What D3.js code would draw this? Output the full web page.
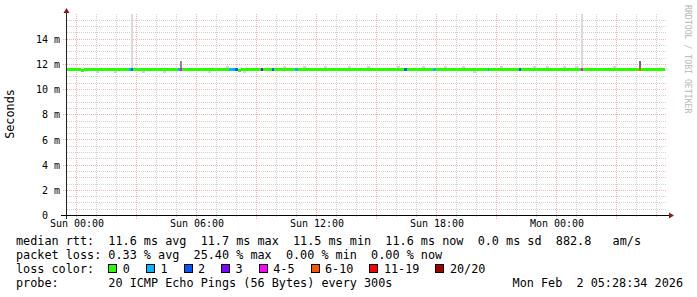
<!DOCTYPE html>
<html>
<head>
<meta charset="utf-8">
<title>smokeping</title>
<style>
  body { margin:0; background:#fff; }
  svg { display:block; }
  text { font-family:"DejaVu Sans Mono", monospace; fill:#000; white-space:pre; }
  .minor { stroke:#d2d2d2; stroke-dasharray:1,1; shape-rendering:crispEdges; }
  .major { stroke:#f0b2b2; stroke-dasharray:1,1; shape-rendering:crispEdges; }
  .axis path, .axis line { display:none; }
</style>
</head>
<body>
<svg id="chart" width="697" height="297"></svg>
<script src="https://d3js.org/d3.v7.min.js"></script>
<script>
// time window of the graph (last 30 hours)
var tStart = new Date(2026, 0, 31, 23, 28, 34);
var tEnd   = new Date(2026, 1, 2, 5, 28, 34);
var parse = d3.timeParse("%Y-%m-%d %H:%M");

// y axis ticks (ms)
var yTicks = [0, 2, 4, 6, 8, 10, 12, 14];
var yMax = 16;

// median rtt runs: run start, value in ms
var medianTimes  = ["2026-01-31 23:28", "2026-02-01 00:14", "2026-02-01 00:24", "2026-02-01 08:05", "2026-02-01 08:15", "2026-02-02 05:25"];
var medianValues = [11.6, 11.53, 11.6, 11.53, 11.6];

// packet loss: start, end, level (index into lossColors)
var lossStart = ["2026-02-01 02:38", "2026-02-01 02:44", "2026-02-01 05:06", "2026-02-01 05:12", "2026-02-01 07:37",
                 "2026-02-01 07:55", "2026-02-01 09:13", "2026-02-01 09:47", "2026-02-01 10:56", "2026-02-01 16:23",
                 "2026-02-01 17:50", "2026-02-01 20:35", "2026-02-01 22:08", "2026-02-02 01:14", "2026-02-02 04:08"];
var lossEnd   = ["2026-02-01 02:44", "2026-02-01 02:50", "2026-02-01 05:12", "2026-02-01 05:18", "2026-02-01 07:55",
                 "2026-02-01 08:05", "2026-02-01 09:19", "2026-02-01 09:53", "2026-02-01 11:05", "2026-02-01 16:31",
                 "2026-02-01 17:59", "2026-02-01 20:38", "2026-02-01 22:14", "2026-02-02 01:20", "2026-02-02 04:14"];
var lossLevel = [1, 2, 1, 4, 1, 2, 3, 2, 1, 2, 1, 1, 2, 4, 5];

// smoke spikes: start, top value (ms), shade
var spikeTimes = ["2026-02-01 02:44", "2026-02-01 05:12", "2026-02-02 01:14", "2026-02-02 04:08"];
var spikeTop   = [16, 12.25, 16, 12.3];
var spikeShade = ["#dadada", "#8c8c8c", "#dadada", "#6e6e6e"];

// light smoke around the median
var smokeTimes = ["2026-02-01 00:59", "2026-02-01 01:52", "2026-02-01 03:16", "2026-02-01 04:19", "2026-02-01 06:34",
                  "2026-02-01 07:29", "2026-02-01 08:20", "2026-02-01 10:20", "2026-02-01 11:20", "2026-02-01 12:23",
                  "2026-02-01 13:35", "2026-02-01 14:32", "2026-02-01 16:02", "2026-02-01 17:17", "2026-02-01 18:23",
                  "2026-02-01 19:17", "2026-02-01 19:50", "2026-02-01 21:11", "2026-02-01 22:50", "2026-02-01 23:29",
                  "2026-02-02 00:20", "2026-02-02 00:56", "2026-02-02 02:50"];
var smokeLow   = [11.42, 11.42, 11.42, 11.42, 11.42, 11.6, 11.42, 11.6, 11.6, 11.6, 11.6, 11.6, 11.6, 11.6, 11.6,
                  11.6, 11.42, 11.6, 11.6, 11.6, 11.6, 11.6, 11.6];
var smokeHigh  = [11.6, 11.6, 11.6, 11.6, 11.6, 11.78, 11.6, 11.78, 11.78, 11.78, 11.78, 11.78, 11.78, 11.78, 11.78,
                  11.78, 11.6, 11.78, 11.78, 11.78, 11.78, 11.78, 11.78];

var lossColors = ["#26ff00", "#00b8ff", "#0059ff", "#7e00ff", "#ff00ff", "#ff5500", "#ff0000", "#a10000"];
var lossLabels = ["0", "1", "2", "3", "4-5", "6-10", "11-19", "20/20"];

var statLines = [
  "median rtt:  11.6 ms avg  11.7 ms max  11.5 ms min  11.6 ms now  0.0 ms sd  882.8   am/s",
  "packet loss: 0.33 % avg  25.40 % max  0.00 % min  0.00 % now"
];
var probeText = "probe:       20 ICMP Echo Pings (56 Bytes) every 300s";
var stampText = "Mon Feb  2 05:28:34 2026";

var svg = d3.select("#chart");
var x = d3.scaleTime().domain([tStart, tEnd]).range([66, 666]);
var y = d3.scaleLinear().domain([0, yMax]).range([215.5, 14]);
var px = v => Math.floor(v) + 0.5;

// grid
var g = svg.append("g");
var minorY = d3.range(0.5, yMax, 0.5).filter(v => v % 2 != 0);
g.selectAll(".my").data(minorY).enter().append("line").attr("class", "minor")
  .attr("x1", 67).attr("x2", 666).attr("y1", d => px(y(d))).attr("y2", d => px(y(d)));
var hours = d3.timeHour.range(tStart, tEnd);
g.selectAll(".mx").data(hours.filter(d => d.getHours() % 3 != 0)).enter().append("line").attr("class", "minor")
  .attr("x1", d => px(x(d))).attr("x2", d => px(x(d))).attr("y1", 14).attr("y2", 218);
g.selectAll(".Mx").data(hours.filter(d => d.getHours() % 3 == 0)).enter().append("line").attr("class", "major")
  .attr("x1", d => px(x(d))).attr("x2", d => px(x(d))).attr("y1", 14).attr("y2", 219);
g.selectAll(".My").data(yTicks.filter(d => d > 0)).enter().append("line").attr("class", "major")
  .attr("x1", 63).attr("x2", 666).attr("y1", d => px(y(d))).attr("y2", d => px(y(d)));

// smoke
var data = svg.append("g").attr("shape-rendering", "crispEdges");
data.selectAll(".smoke").data(smokeTimes).enter().append("rect")
  .attr("x", d => x(parse(d))).attr("width", d => x(d3.timeMinute.offset(parse(d), 10)) - x(parse(d)))
  .attr("y", (d, i) => y(smokeHigh[i]) - 1.5).attr("height", (d, i) => y(smokeLow[i]) - y(smokeHigh[i]) + 3)
  .attr("fill", "#d4d4d4");
data.selectAll(".spike").data(spikeTimes).enter().append("rect")
  .attr("x", d => x(parse(d))).attr("width", d => x(d3.timeMinute.offset(parse(d), 6)) - x(parse(d)))
  .attr("y", (d, i) => y(spikeTop[i])).attr("height", (d, i) => y(11.6) - y(spikeTop[i]))
  .attr("fill", (d, i) => spikeShade[i]);

// median band
var runs = medianValues.map((v, i) => ({ t0: parse(medianTimes[i]), t1: parse(medianTimes[i + 1]), v: v }));
data.selectAll(".med").data(runs).enter().append("rect")
  .attr("x", d => x(d.t0)).attr("width", d => x(d.t1) - x(d.t0))
  .attr("y", d => y(d.v) - 1.5).attr("height", 3).attr("fill", lossColors[0]);
data.selectAll(".loss").data(lossStart).enter().append("rect")
  .attr("x", d => x(parse(d))).attr("width", (d, i) => x(parse(lossEnd[i])) - x(parse(d)))
  .attr("y", y(11.6) - 1.5).attr("height", 3).attr("fill", (d, i) => lossColors[lossLevel[i]]);

// axes lines + arrows
svg.append("line").attr("x1", 66.5).attr("x2", 66.5).attr("y1", 12).attr("y2", 219).attr("stroke", "#222").attr("shape-rendering", "crispEdges");
svg.append("line").attr("x1", 61).attr("x2", 670).attr("y1", 215.5).attr("y2", 215.5).attr("stroke", "#000").attr("shape-rendering", "crispEdges");
svg.append("path").attr("d", "M63.5,13L69.5,13L66.5,8Z").attr("fill", "#8b1a1a");
svg.append("path").attr("d", "M669,212.5L669,218.5L674,215.5Z").attr("fill", "#8b1a1a");

// tick labels
svg.append("g").attr("class", "axis").attr("transform", "translate(0,215)")
  .call(d3.axisBottom(x).ticks(d3.timeHour.every(6)).tickSize(0).tickPadding(5).tickFormat(d3.timeFormat("%a %H:%M")))
  .selectAll("text").style("font-family", "DejaVu Sans Mono").style("font-size", "10px").attr("fill", "#000");
var yAxis = svg.append("g").attr("class", "axis").attr("transform", "translate(66,0)")
  .call(d3.axisLeft(y).tickValues(yTicks).tickSize(0).tickPadding(18).tickFormat(d => d));
yAxis.selectAll("text").style("font-family", "DejaVu Sans Mono").style("font-size", "10px").attr("fill", "#000");
// unit suffix next to each non-zero label
yAxis.selectAll(".tick").filter(d => d > 0).append("text")
  .attr("x", -12).attr("dy", "0.32em").attr("fill", "#000")
  .style("font-family", "DejaVu Sans Mono").style("font-size", "10px").attr("text-anchor", "start").text("m");

svg.append("text").attr("transform", "translate(14,114) rotate(-90)").attr("text-anchor", "middle")
  .style("font-size", "11.8px").text("Seconds");
svg.append("text").attr("transform", "translate(685,5) rotate(90)").style("fill", "#b8b8b8")
  .style("font-size", "8.2px").text("RRDTOOL / TOBI OETIKER");

// legend / stats
var lx = 16, cw = 7.1, fs = "11.8px";
statLines.forEach(function (s, i) {
  svg.append("text").attr("x", lx).attr("y", 245 + i * 14).style("font-size", fs).text(s);
});
svg.append("text").attr("x", lx).attr("y", 273).style("font-size", fs).text("loss color:");
var cx = lx + 13 * cw;
lossLabels.forEach(function (lab, i) {
  svg.append("rect").attr("x", cx + 0.5).attr("y", 264.5).attr("width", 8).attr("height", 8)
    .attr("fill", lossColors[i]).attr("stroke", "#000").attr("shape-rendering", "crispEdges");
  svg.append("text").attr("x", cx + 14.5).attr("y", 273).style("font-size", fs).text(lab);
  cx += 14.5 + lab.length * cw + 16;
});
svg.append("text").attr("x", lx).attr("y", 287).style("font-size", fs).text(probeText);
svg.append("text").attr("x", 683).attr("y", 287).attr("text-anchor", "end").style("font-size", fs).text(stampText);
</script>
</body>
</html>
